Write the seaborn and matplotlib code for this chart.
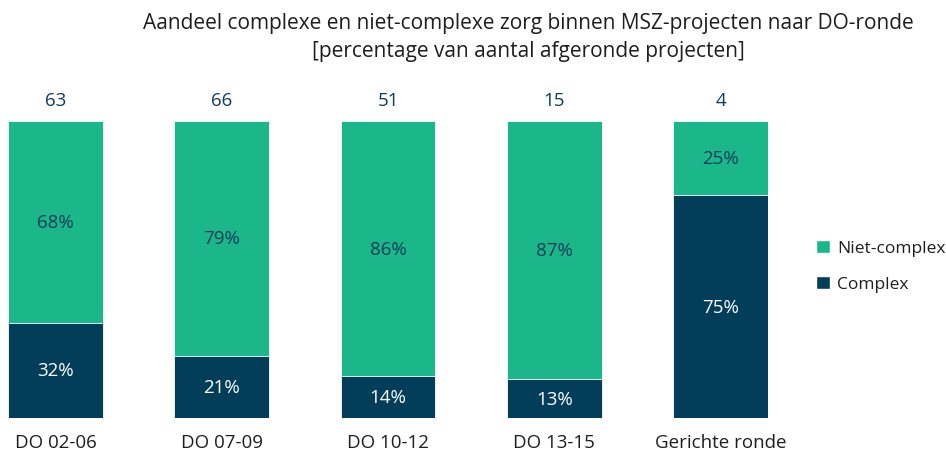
import matplotlib
matplotlib.use("Agg")
import matplotlib.pyplot as plt
import seaborn as sns
import pandas as pd
from matplotlib.patches import Patch

categories = ["DO 02-06", "DO 07-09", "DO 10-12", "DO 13-15", "Gerichte ronde"]
complex_pct = [32, 21, 14, 13, 75]
niet_complex_pct = [68, 79, 86, 87, 25]
counts = [63, 66, 51, 15, 4]

GREEN = "#1bb68a"
NAVY = "#023e5a"
TEXT_DARK = "#0f3e58"
TITLE_COL = "#1e1e1e"

sns.set_theme(style="white")
plt.rcParams["font.family"] = ["Open Sans", "DejaVu Sans"]

df = pd.DataFrame({
    "cat": categories,
    "complex": complex_pct,
    "niet": niet_complex_pct,
})
df["total"] = df["complex"] + df["niet"]

fig = plt.figure(figsize=(9.46, 4.52), dpi=100)
ax = fig.add_axes([8/946, 33/452, 760/946, 297/452])

sns.barplot(data=df, x="cat", y="total", color=GREEN, width=0.57, ax=ax,
            saturation=1, edgecolor="white", linewidth=0.6)
sns.barplot(data=df, x="cat", y="complex", color=NAVY, width=0.57, ax=ax,
            saturation=1, edgecolor="white", linewidth=0.6)

ax.set_xlim(-0.285, 4.285)
ax.set_ylim(0, 100)
ax.set_xlabel("")
ax.set_ylabel("")
ax.set_yticks([])
for s in ax.spines.values():
    s.set_visible(False)
FS = 13.5
ax.tick_params(axis="x", length=0, pad=11, labelsize=FS, labelcolor=TITLE_COL)

for i, (c, n, t, k) in enumerate(zip(df["complex"], df["niet"], df["total"], counts)):
    ax.text(i, c / 2, f"{c}%", ha="center", va="center", color="white", fontsize=FS)
    ax.text(i, c + n / 2, f"{n}%", ha="center", va="center", color=TEXT_DARK, fontsize=FS)
    ax.text(i, t + 7, f"{k}", ha="center", va="center", color=TEXT_DARK, fontsize=FS,
            clip_on=False)

fig.text(528/946, 1 - 23/452, "Aandeel complexe en niet-complexe zorg binnen MSZ-projecten naar DO-ronde",
         ha="center", va="center", fontsize=15, color=TITLE_COL)
fig.text(528/946, 1 - 51/452, "[percentage van aantal afgeronde projecten]",
         ha="center", va="center", fontsize=15, color=TITLE_COL)

handles = [Patch(facecolor=GREEN, label="Niet-complex"), Patch(facecolor=NAVY, label="Complex")]
fig.legend(handles=handles, loc="center left", bbox_to_anchor=(816/946, 1 - 267/452),
           frameon=False, fontsize=12.5, handlelength=0.8, handleheight=0.8,
           handletextpad=0.4, labelspacing=1.1, borderpad=0, borderaxespad=0,
           labelcolor=TITLE_COL)

fig.savefig("out.png", dpi=100)
